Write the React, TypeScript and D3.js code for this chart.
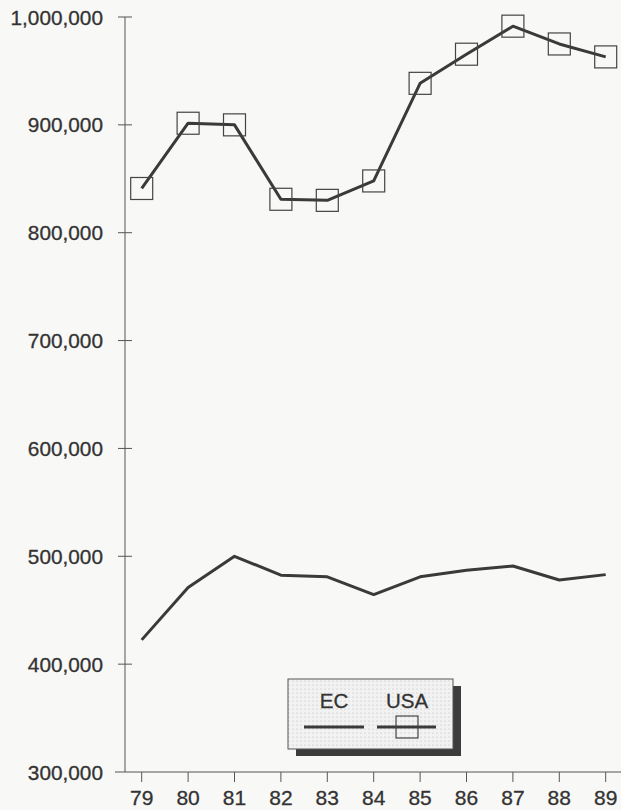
import React from "react";
import * as d3 from "d3";

const years = [79, 80, 81, 82, 83, 84, 85, 86, 87, 88, 89];
const usaValues = [841000, 901500, 900000, 831000, 830000, 848000, 938500, 965500, 991500, 975000, 963000];
const ecValues = [422500, 471000, 500000, 482500, 481000, 464500, 481000, 487000, 491000, 478000, 483000];
const yTicks = [300000, 400000, 500000, 600000, 700000, 800000, 900000, 1000000];
const seriesNames = ["EC", "USA"];

const W = 621;
const H = 810;
const FONT = "'Liberation Sans', Arial, Helvetica, sans-serif";
const INK = "#333";

export default function App() {
  const x = d3.scaleLinear().domain([79, 89]).range([141.7, 605.7]);
  const y = d3.scaleLinear().domain([300000, 1000000]).range([772, 17]);
  const axisX = 125;
  const baseY = y(300000);

  const line = d3
    .line<number>()
    .x((_, i) => x(years[i]))
    .y((d) => y(d));

  const fmt = d3.format(",");
  const sq = 22;

  // legend layout
  const lx = 288, ly = 679, lw = 165, lh = 70;

  return (
    <div style={{ position: "absolute", left: 0, top: 0 }}>
      <svg width={W} height={H} style={{ display: "block", background: "#f8f8f6" }}>
        <defs>
          <pattern id="dots" width="4" height="4" patternUnits="userSpaceOnUse">
            <rect width="4" height="4" fill="#f2f2f2" />
            <circle cx="1" cy="1" r="0.6" fill="#b8b8b8" />
          </pattern>
        </defs>
        {/* y axis */}
        <line x1={axisX} x2={axisX} y1={y(1000000)} y2={baseY} stroke="#555" strokeWidth={1} />
        {yTicks.map((t) => (
          <g key={t}>
            {t !== 300000 && (
              <line x1={axisX - 7} x2={axisX + 7} y1={y(t)} y2={y(t)} stroke="#555" strokeWidth={1} />
            )}
            <text
              x={103}
              y={y(t)}
              textAnchor="end"
              dominantBaseline="central"
              fontFamily={FONT}
              fontSize={20.8}
              fill={INK}
              stroke={INK}
              strokeWidth={0.3}
            >
              {fmt(t)}
            </text>
          </g>
        ))}
        {/* x axis */}
        <line x1={115} x2={621} y1={baseY} y2={baseY} stroke="#555" strokeWidth={1.2} />
        {years.map((yr) => (
          <g key={yr}>
            <line x1={x(yr)} x2={x(yr)} y1={baseY} y2={baseY + 10} stroke="#555" strokeWidth={1} />
            <text
              x={x(yr)}
              y={797}
              textAnchor="middle"
              dominantBaseline="central"
              fontFamily={FONT}
              fontSize={21}
              fill={INK}
              stroke={INK}
              strokeWidth={0.3}
            >
              {yr}
            </text>
          </g>
        ))}
        {/* EC line */}
        <path d={line(ecValues) || ""} fill="none" stroke="#3a3a3a" strokeWidth={3} strokeLinejoin="round" />
        {/* USA line */}
        <path d={line(usaValues) || ""} fill="none" stroke="#3a3a3a" strokeWidth={3} strokeLinejoin="round" />
        {usaValues.map((v, i) => (
          <rect
            key={i}
            x={x(years[i]) - sq / 2}
            y={y(v) - sq / 2}
            width={sq}
            height={sq}
            fill="none"
            stroke="#444"
            strokeWidth={1.2}
          />
        ))}
        {/* legend */}
        <rect x={lx + 8} y={ly + 7} width={lw} height={lh} fill="#3c3c3c" />
        <rect x={lx} y={ly} width={lw} height={lh} fill="url(#dots)" stroke="#555" strokeWidth={1} />
        <text x={334} y={708} textAnchor="middle" fontFamily={FONT} fontSize={20.5} fill={INK} stroke={INK} strokeWidth={0.3}>
          {seriesNames[0]}
        </text>
        <text x={407} y={708} textAnchor="middle" fontFamily={FONT} fontSize={20.5} fill={INK} stroke={INK} strokeWidth={0.3}>
          {seriesNames[1]}
        </text>
        <line x1={304} x2={364} y1={727} y2={727} stroke="#3a3a3a" strokeWidth={3} />
        <line x1={377} x2={436} y1={727} y2={727} stroke="#3a3a3a" strokeWidth={3} />
        <rect x={407 - sq / 2} y={727 - sq / 2} width={sq} height={sq} fill="none" stroke="#444" strokeWidth={1.2} />
      </svg>
    </div>
  );
}
